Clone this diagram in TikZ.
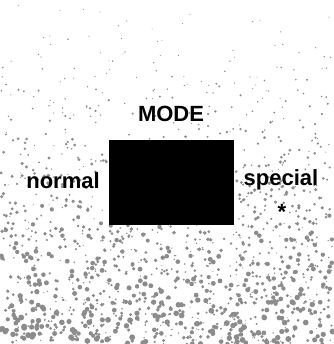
\documentclass[tikz,border=0pt]{standalone}
\usepackage{fontspec}
\setmainfont{Liberation Sans}
\begin{document}
\begin{tikzpicture}[x=1pt, y=-1pt,
  label text/.style={font=\fontsize{22}{24}\selectfont\bfseries, inner sep=0pt},
  speck/.style={fill=black!45}]
\useasboundingbox (0,0) rectangle (333,344);

% Speckled grey background, denser towards the bottom
\pgfmathsetseed{4711}
\foreach \i in {1,...,1500} {
  \pgfmathsetmacro\px{rnd*333}
  \pgfmathsetmacro\py{344*(rnd)^0.45}
  \pgfmathsetmacro\pr{0.5+2.6*(\py/344)*rnd}
  \fill[speck] (\px,\py) circle (\pr);
}

% Mode box
\fill[black] (109,140) rectangle (234,225);
\coordinate (box) at (171.5,182.5);

% Labels
\node[label text] (mode) at (171,114) {MODE};
\node[label text] (normal) at (63,181) {normal};
\node[label text] (special) at (281,180) {special};
\node[label text] (star) at (282,212) {*};

\end{tikzpicture}
\end{document}
